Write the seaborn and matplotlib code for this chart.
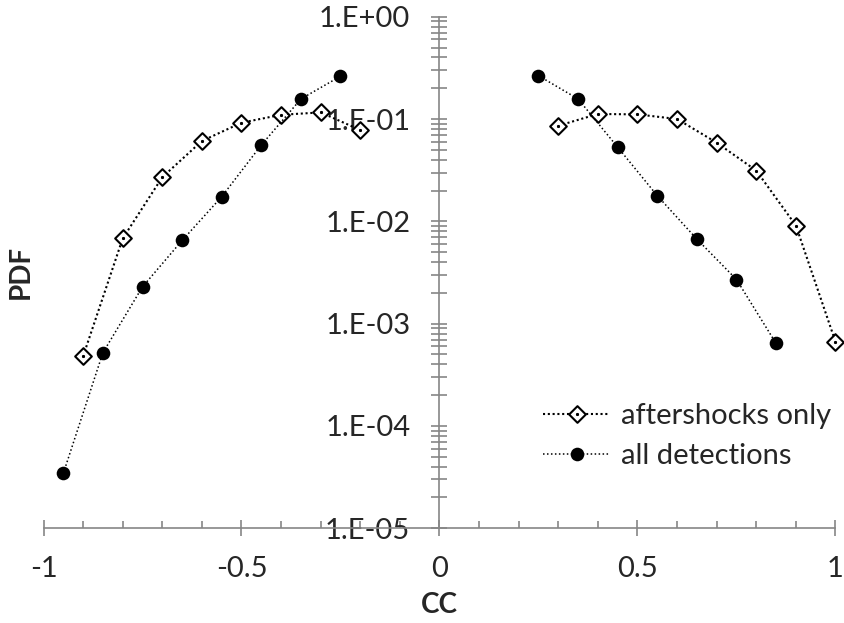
import numpy as np
import pandas as pd
import matplotlib
matplotlib.use("Agg")
import matplotlib.pyplot as plt
import seaborn as sns
from matplotlib.path import Path
from matplotlib.ticker import FixedLocator, LogLocator, NullFormatter

# ---- data ----
after_left_cc = [-0.9, -0.8, -0.7, -0.6, -0.5, -0.4, -0.3, -0.2]
after_left_pdf = [4.8e-4, 6.8e-3, 0.027, 0.061, 0.092, 0.110, 0.116, 0.078]
after_right_cc = [0.3, 0.4, 0.5, 0.6, 0.7, 0.8, 0.9, 1.0]
after_right_pdf = [0.086, 0.112, 0.111, 0.100, 0.0587, 0.0313, 0.0091, 6.65e-4]

all_left_cc = [-0.95, -0.85, -0.75, -0.65, -0.55, -0.45, -0.35, -0.25]
all_left_pdf = [3.44e-5, 5.2e-4, 2.29e-3, 6.5e-3, 0.0174, 0.0557, 0.157, 0.262]
all_right_cc = [0.25, 0.35, 0.45, 0.55, 0.65, 0.75, 0.85]
all_right_pdf = [0.265, 0.157, 0.053, 0.0178, 6.7e-3, 2.7e-3, 6.4e-4]

series_labels = ["aftershocks only", "all detections"]
x_ticks = [-1, -0.5, 0, 0.5, 1]
x_tick_labels = ["-1", "-0.5", "0", "0.5", "1"]
y_ticks = [1e-5, 1e-4, 1e-3, 1e-2, 1e-1, 1e0]
y_tick_labels = ["1.E-05", "1.E-04", "1.E-03", "1.E-02", "1.E-01", "1.E+00"]

sns.set_style("white")
plt.rcParams["font.family"] = ["Lato", "DejaVu Sans"]

W, H = 845, 623
fig = plt.figure(figsize=(W / 100, H / 100), dpi=100)
left_px, right_px, top_px, bot_px = 43.5, 835.5, 16.7, 528.3
ax = fig.add_axes([left_px / W, (H - bot_px) / H, (right_px - left_px) / W, (bot_px - top_px) / H])
ax.set_yscale("log")

# diamond marker with a center dot
diamond = Path(
    [(0, 1), (1, 0), (0, -1), (-1, 0), (0, 1),
     (-0.06, -0.06), (0.06, -0.06), (0.06, 0.06), (-0.06, 0.06), (-0.06, -0.06)],
    [Path.MOVETO, Path.LINETO, Path.LINETO, Path.LINETO, Path.CLOSEPOLY,
     Path.MOVETO, Path.LINETO, Path.LINETO, Path.LINETO, Path.CLOSEPOLY],
)

after_style = dict(color="black", linestyle=(0, (1, 1.3)), linewidth=1.5,
                   marker=diamond, markersize=12, markerfacecolor="white",
                   markeredgecolor="black", markeredgewidth=1.5, clip_on=False)
all_style = dict(color="black", linestyle=(0, (1, 1.6)), linewidth=1.1,
                 marker="o", markersize=9.8, markerfacecolor="black",
                 markeredgecolor="black", markeredgewidth=0, clip_on=False)

d1 = pd.DataFrame({"cc": after_left_cc, "pdf": after_left_pdf})
d2 = pd.DataFrame({"cc": after_right_cc, "pdf": after_right_pdf})
d3 = pd.DataFrame({"cc": all_left_cc, "pdf": all_left_pdf})
d4 = pd.DataFrame({"cc": all_right_cc, "pdf": all_right_pdf})

sns.lineplot(data=d1, x="cc", y="pdf", ax=ax, sort=False, label=series_labels[0], **after_style)
sns.lineplot(data=d2, x="cc", y="pdf", ax=ax, sort=False, **after_style)
sns.lineplot(data=d3, x="cc", y="pdf", ax=ax, sort=False, label=series_labels[1], **all_style)
sns.lineplot(data=d4, x="cc", y="pdf", ax=ax, sort=False, **all_style)

ax.set_xlim(-1, 1)
ax.set_ylim(1e-5, 1)

gray = "#868686"
for s in ["top", "right"]:
    ax.spines[s].set_visible(False)
ax.spines["left"].set_position(("data", 0))
for s in ["left", "bottom"]:
    ax.spines[s].set_color(gray)
    ax.spines[s].set_linewidth(1.2)

ax.xaxis.set_major_locator(FixedLocator(x_ticks))
ax.set_xticklabels(x_tick_labels)
ax.xaxis.set_minor_locator(FixedLocator(np.round(np.arange(-1, 1.001, 0.1), 2)))
ax.yaxis.set_major_locator(FixedLocator(y_ticks))
ax.set_yticklabels(y_tick_labels)
ax.yaxis.set_minor_locator(LogLocator(base=10, subs=np.arange(2, 10)))
ax.yaxis.set_minor_formatter(NullFormatter())

fs = 21
ax.tick_params(axis="x", which="major", direction="inout", length=12, width=1.2, color=gray,
               labelsize=fs, pad=14, bottom=True)
ax.tick_params(axis="x", which="minor", direction="in", length=5, width=1.2, color=gray, bottom=True)
ax.tick_params(axis="y", which="both", direction="inout", length=12, width=1.2, color=gray,
               labelsize=fs, pad=15, left=True)

ax.set_xlabel("CC", fontsize=20, fontweight="bold")
ax.set_ylabel("")
fig.text(20.7 / W, (H - 272) / H, "PDF", rotation=90, fontsize=20, fontweight="bold",
         ha="center", va="center")
ax.xaxis.set_label_coords(0.5, -(605 - bot_px) / (bot_px - top_px))
ax.xaxis.label.set_va("center")

leg = ax.legend(loc="center left", bbox_to_anchor=(543 / W, (H - 436) / H),
                bbox_transform=fig.transFigure, frameon=False, fontsize=fs,
                handlelength=2.3, handletextpad=0.36, labelspacing=0.5,
                borderpad=0, borderaxespad=0)

ax.set_facecolor("white")
fig.patch.set_facecolor("white")
fig.savefig("out.png", dpi=100)
